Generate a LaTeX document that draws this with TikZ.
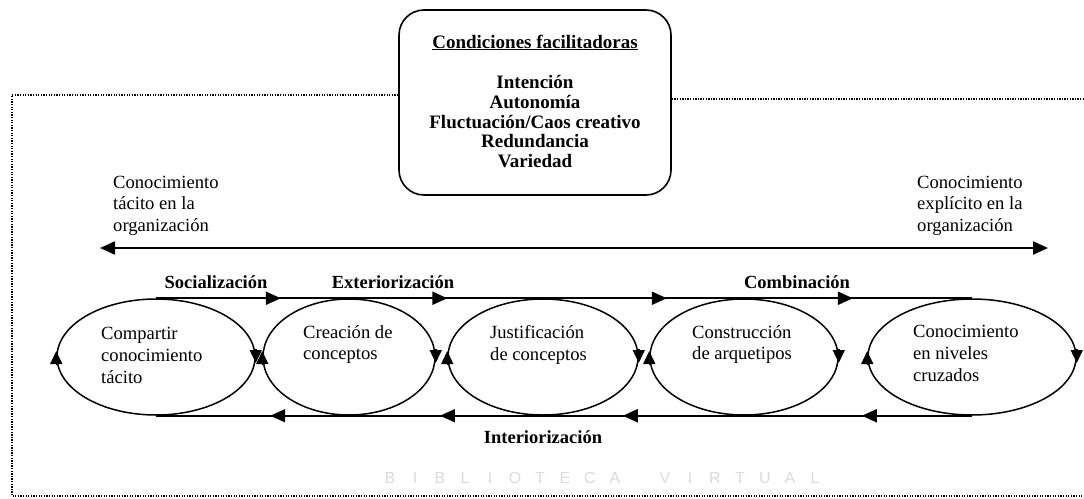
\documentclass[tikz,border=0pt]{standalone}
\usepackage{fontspec}
\setmainfont{Liberation Serif}
\setsansfont{Liberation Sans}
\usetikzlibrary{arrows.meta,decorations.markings,shapes.geometric,calc}
\begin{document}
\begin{tikzpicture}[x=1pt,y=-1pt,
  txt/.style={font=\fontsize{18.6}{21.8}\selectfont, align=left, inner sep=0pt, anchor=north west},
  lbl/.style={font=\bfseries\fontsize{18.5}{21}\selectfont, inner sep=0pt, anchor=base},
  ell/.style={draw, ellipse, line width=1.5pt, inner sep=0pt, minimum height=116pt},
  flow/.style={line width=2pt},
  tri/.style={line width=1.5pt, -{Triangle[length=13pt,width=12pt]}},
  frame/.style={line width=1.6pt, dash pattern=on 1.3pt off 1.3pt},
  wm/.style={font=\sffamily\fontsize{16}{16}\selectfont, text=black!14, inner sep=0pt},
  fwd/.style={postaction=decorate},
]
\useasboundingbox (0,0) rectangle (1084,498);

% top box
\node[draw, rounded corners=25pt, line width=1.6pt, minimum width=272pt, minimum height=185pt] (box) at (535,102.5) {};
\node[lbl, font=\bfseries\fontsize{19}{21}\selectfont] (title) at (535,48) {\underline{Condiciones facilitadoras}};
\node[font=\bfseries\fontsize{19}{19.6}\selectfont, align=center, inner sep=0pt, anchor=north] (cond) at (535,75.5)
  {Intención\\Autonomía\\Fluctuación/Caos creativo\\Redundancia\\Variedad};

% dotted frame
\coordinate (ftl) at (12,95);
\coordinate (fbl) at (12,496);
\coordinate (fbr) at (1084,496);
\coordinate (ftr) at (1084,99);
\draw[frame] (ftl -| box.west) -- (ftl) -- (fbl) -- (fbr);
\draw[frame] (box.east |- ftr) -- (ftr);

% side texts
\node[txt] (tac) at (113,175.5) {Conocimiento\\tácito en la\\organización};
\node[txt] (exp) at (917,175.5) {Conocimiento\\explícito en la\\organización};
\coordinate (la) at (100,248);
\coordinate (ra) at (1048,248);
\draw[line width=2.2pt, {Triangle[length=15pt,width=13pt]}-{Triangle[length=15pt,width=13pt]}] (la) -- (ra);

% ellipses
\node[ell, minimum width=198pt] (e1) at (156,357) {};
\node[ell, minimum width=172pt] (e2) at (349,357) {};
\node[ell, minimum width=190pt] (e3) at (543,357) {};
\node[ell, minimum width=188pt] (e4) at (744,357) {};
\node[ell, minimum width=208pt] (e5) at (972,357) {};

\node[txt] (t1) at (101,327) {Compartir\\conocimiento\\tácito};
\node[txt] (t2) at (303,325) {Creación de\\conceptos};
\node[txt] (t3) at (490,325) {Justificación\\de conceptos};
\node[txt] (t4) at (692,325) {Construcción\\de arquetipos};
\node[txt] (t5) at (913,325) {Conocimiento\\en niveles\\cruzados};

% arrowheads on ellipses
\foreach \e in {e1,e2,e3,e4,e5}{
  \draw[tri] ($(\e.east)+(0,-8)$) -- ($(\e.east)+(0,6)$);
  \draw[tri] ($(\e.west)+(0,8)$) -- ($(\e.west)+(0,-6)$);
}

% flows
\draw[flow, fwd, decoration={markings,
  mark=at position 0.153 with {\arrow{Triangle[length=15pt,width=13pt]}},
  mark=at position 0.357 with {\arrow{Triangle[length=15pt,width=13pt]}},
  mark=at position 0.626 with {\arrow{Triangle[length=15pt,width=13pt]}},
  mark=at position 0.854 with {\arrow{Triangle[length=15pt,width=13pt]}}}]
  (e1.north) -- (e5.north);
\draw[flow, fwd, decoration={markings,
  mark=at position 0.135 with {\arrow{Triangle[length=15pt,width=13pt]}},
  mark=at position 0.428 with {\arrow{Triangle[length=15pt,width=13pt]}},
  mark=at position 0.652 with {\arrow{Triangle[length=15pt,width=13pt]}},
  mark=at position 0.860 with {\arrow{Triangle[length=15pt,width=13pt]}}}]
  (e5.south) -- (e1.south);

% flow labels
\node[lbl] (soc) at (216,288) {Socialización};
\node[lbl] (ext) at (393,288) {Exteriorización};
\node[lbl] (com) at (797,288) {Combinación};
\node[lbl] (int) at (543,443) {Interiorización};

% watermark
\foreach \c [count=\i] in {B,I,B,L,I,O,T,E,C,A}
  \node[wm] (wa\i) at ({390+25*(\i-1)},478) {\c};
\foreach \c [count=\i] in {V,I,R,T,U,A,L}
  \node[wm] (wb\i) at ({665+25*(\i-1)},478) {\c};
\end{tikzpicture}
\end{document}
